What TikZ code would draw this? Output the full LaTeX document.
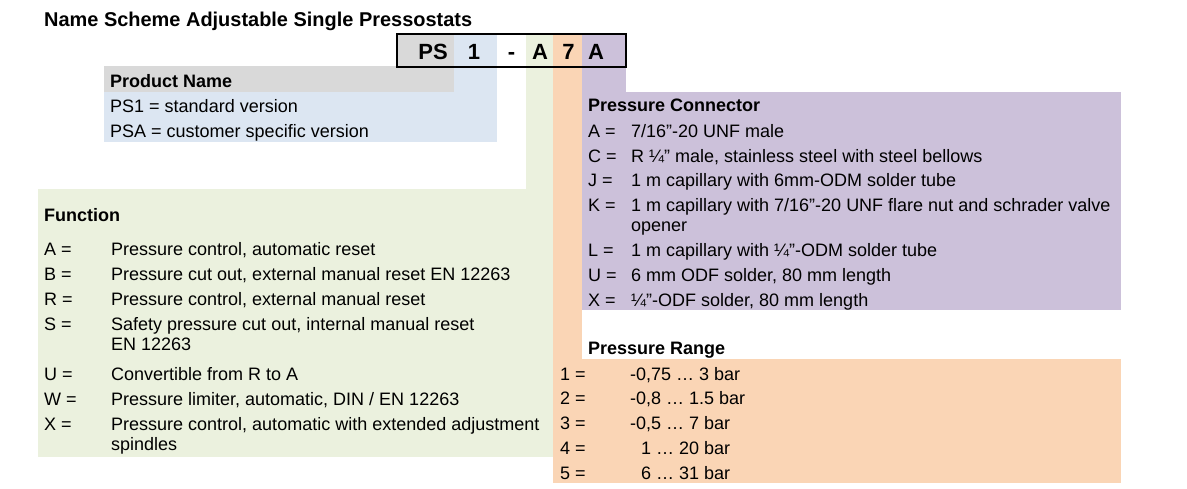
\documentclass[tikz,border=0pt]{standalone}
\usepackage{fontspec}
\setmainfont{Liberation Sans}
\definecolor{cgray}{RGB}{217,217,217}
\definecolor{cblue}{RGB}{220,230,242}
\definecolor{cgreen}{RGB}{235,241,222}
\definecolor{corange}{RGB}{250,213,181}
\definecolor{cpurple}{RGB}{204,193,218}
\begin{document}
\begin{tikzpicture}[x=1pt,y=-1pt,
  txt/.style={anchor=base west,inner sep=0pt,font=\fontsize{18}{21}\selectfont},
  hd/.style={anchor=base west,inner sep=0pt,font=\fontsize{18}{21}\selectfont\bfseries},
  ttl/.style={anchor=base west,inner sep=0pt,font=\fontsize{19.95}{23}\selectfont\bfseries},
  codeletter/.style={anchor=base,inner sep=0pt,font=\fontsize{22}{26}\selectfont\bfseries},
  codebox/.style={draw=black,line width=2.5pt}]
\useasboundingbox (0,0) rectangle (1187,489);
\fill[white] (0,0) rectangle (1187,489);
% colour fields
\fill[cgray] (397,34) rectangle (454,92);
\fill[cgray] (104,66) rectangle (454,92);
\fill[cblue] (454,34) rectangle (497,142);
\fill[cblue] (104,92) rectangle (497,142);
\fill[cgreen] (526,34) rectangle (553,189);
\fill[cgreen] (38,189) rectangle (553,457);
\fill[corange] (553,34) rectangle (582,359);
\fill[corange] (553,359) rectangle (1121,483);
\fill[cpurple] (582,34) rectangle (626,92);
\fill[cpurple] (582,92) rectangle (1121,310);
\draw[codebox] (397,34) rectangle (626,67);
% title
\node[ttl] (title) at (44,27) {Name Scheme Adjustable Single Pressostats};
% code letters
\node[codeletter] (cPS) at (433,60) {PS};
\node[codeletter] (c1) at (474,60) {1};
\node[codeletter] (cdash) at (511.5,60) {-};
\node[codeletter] (cA1) at (540,60) {A};
\node[codeletter] (c7) at (568.5,60) {7};
\node[codeletter] (cA2) at (596,60) {A};
% product name
\node[hd] (pnh) at (110,87.5) {Product Name};
\node[txt] (pn1) at (110,112.5) {PS1 = standard version};
\node[txt] (pn2) at (110,137.5) {PSA = customer specific version};
% function
\node[hd] (fh) at (44,222) {Function};
\node[txt] (fkA) at (44,255.5) {A =};
\node[txt] (fvA) at (111,255.5) {Pressure control, automatic reset};
\node[txt] (fkB) at (44,280.5) {B =};
\node[txt] (fvB) at (111,280.5) {Pressure cut out, external manual reset EN 12263};
\node[txt] (fkR) at (44,305.5) {R =};
\node[txt] (fvR) at (111,305.5) {Pressure control, external manual reset};
\node[txt] (fkS) at (44,330.5) {S =};
\node[txt] (fvS) at (111,330.5) {Safety pressure cut out, internal manual reset};
\node[txt] (fvS2) at (111,350.5) {EN 12263};
\node[txt] (fkU) at (44,380) {U =};
\node[txt] (fvU) at (111,380) {Convertible from R to A};
\node[txt] (fkW) at (44,405) {W =};
\node[txt] (fvW) at (111,405) {Pressure limiter, automatic, DIN / EN 12263};
\node[txt] (fkX) at (44,430) {X =};
\node[txt] (fvX) at (111,430) {Pressure control, automatic with extended adjustment};
\node[txt] (fvX2) at (111,450) {spindles};
% pressure connector
\node[hd] (pch) at (588,112) {Pressure Connector};
\node[txt] (pkA) at (588,137.5) {A =};
\node[txt] (pvA) at (631,137.5) {7/16”-20 UNF male};
\node[txt] (pkC) at (588,162.5) {C =};
\node[txt] (pvC) at (631,162.5) {R ¼” male, stainless steel with steel bellows};
\node[txt] (pkJ) at (588,186.5) {J =};
\node[txt] (pvJ) at (631,186.5) {1 m capillary with 6mm-ODM solder tube};
\node[txt] (pkK) at (588,211.5) {K =};
\node[txt] (pvK) at (631,211.5) {1 m capillary with 7/16”-20 UNF flare nut and schrader valve};
\node[txt] (pvK2) at (631,231.5) {opener};
\node[txt] (pkL) at (588,256.5) {L =};
\node[txt] (pvL) at (631,256.5) {1 m capillary with ¼”-ODM solder tube};
\node[txt] (pkU) at (588,281.5) {U =};
\node[txt] (pvU) at (631,281.5) {6 mm ODF solder, 80 mm length};
\node[txt] (pkX) at (588,306.5) {X =};
\node[txt] (pvX) at (631,306.5) {¼”-ODF solder, 80 mm length};
% pressure range
\node[hd] (prh) at (588,354.5) {Pressure Range};
\node[txt] (rk1) at (560,381) {1 =};
\node[txt] (rv1) at (630,381) {-0,75 … 3 bar};
\node[txt] (rk2) at (560,404.5) {2 =};
\node[txt] (rv2) at (630,404.5) {-0,8 … 1.5 bar};
\node[txt] (rk3) at (560,429.5) {3 =};
\node[txt] (rv3) at (630,429.5) {-0,5 … 7 bar};
\node[txt] (rk4) at (560,454.5) {4 =};
\node[txt] (rv4) at (641,454.5) {1 … 20 bar};
\node[txt] (rk5) at (560,479.5) {5 =};
\node[txt] (rv5) at (641,479.5) {6 … 31 bar};
\end{tikzpicture}
\end{document}
